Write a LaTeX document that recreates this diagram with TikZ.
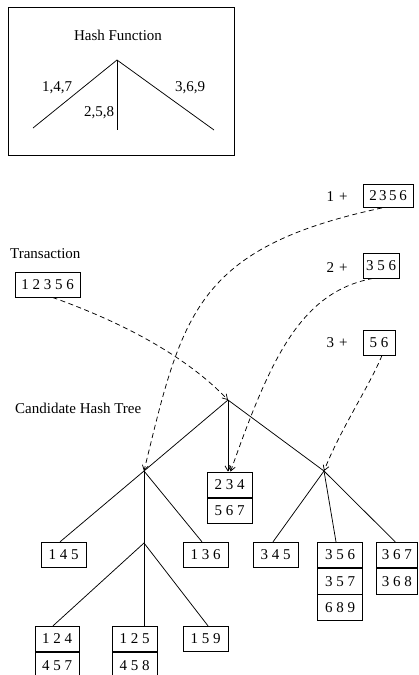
\documentclass[tikz,border=0pt]{standalone}
\usepackage{fontspec}
\setmainfont{Liberation Serif}
\usetikzlibrary{arrows.meta}
\begin{document}
\begin{tikzpicture}[x=1pt,y=-1pt,
  every node/.style={font=\fontsize{15}{18}\selectfont},
  line/.style={line width=0.75pt},
  cell/.style={draw,line width=0.8pt,inner sep=0pt,minimum width=45pt,minimum height=25.5pt},
  tbox/.style={draw,line width=0.8pt,inner sep=0pt,minimum height=25pt},
  dasharrow/.style={line width=0.75pt,dash pattern=on 5pt off 3.5pt,-{Straight Barb[length=5pt,width=6pt]}},
  solidarrow/.style={line width=0.75pt,-{Straight Barb[length=5pt,width=6pt]}},
  lbl/.style={inner sep=0pt}
]
\clip (0,0) rectangle (418,675);
\fill[white] (0,0) rectangle (418,675);

% Hash function box
\node[draw,line width=0.8pt,minimum width=226pt,minimum height=148pt,inner sep=0pt] (hbox) at (121,81.5) {};
\node[lbl] (htitle) at (118,35) {Hash Function};
\coordinate (hapex) at (117,60);
\coordinate (hl) at (33,128);
\coordinate (hm) at (117,130);
\coordinate (hr) at (214,130);
\draw[line] (hapex) -- (hl);
\draw[line] (hapex) -- (hm);
\draw[line] (hapex) -- (hr);
\node[lbl] (l147) at (57,88) {1,4,7};
\node[lbl] (l258) at (99,113) {2,5,8};
\node[lbl] (l369) at (190,88) {3,6,9};

% Transaction
\node[lbl,anchor=west] (translbl) at (10,254) {Transaction};
\node[tbox,minimum width=65pt] (trans) at (47.5,284.5) {1 2 3 5 6};

% Prefix boxes
\node[lbl] (p1) at (337,197) {1\,\,+};
\node[tbox,minimum width=50pt,minimum height=23pt] (b2356) at (388,196) {2\,3\,5\,6};
\node[lbl] (p2) at (337,268) {2\,\,+};
\node[tbox,minimum width=36pt] (b356) at (381,265.5) {3 5 6};
\node[lbl] (p3) at (337,343) {3\,\,+};
\node[tbox,minimum width=32pt] (b56) at (379,342.5) {5 6};

% Candidate tree
\node[lbl,anchor=west] (candlbl) at (15,408) {Candidate Hash Tree};
\coordinate (root) at (228,400);
\coordinate (lc) at (144,471);
\coordinate (rc) at (324,471);
\coordinate (sub) at (144,543);

\node[cell] (c234) at (229.5,484.75) {2 3 4};
\node[cell,anchor=north] (c567) at (c234.south) {5 6 7};

\node[cell] (c145) at (63.5,555) {1 4 5};
\node[cell] (c136) at (205.5,555) {1 3 6};
\node[cell] (c345) at (275.5,555) {3 4 5};
\node[cell] (c356) at (340,555) {3 5 6};
\node[cell,anchor=north] (c357) at (c356.south) {3 5 7};
\node[cell,anchor=north] (c689) at (c357.south) {6 8 9};
\node[cell,minimum width=41.5pt] (c367) at (396.75,555) {3 6 7};
\node[cell,minimum width=41.5pt,anchor=north] (c368) at (c367.south) {3 6 8};

\node[cell,minimum width=44pt] (c124) at (57,639) {1 2 4};
\node[cell,minimum width=44pt,anchor=north] (c457) at (c124.south) {4 5 7};
\node[cell] (c125) at (134.5,639) {1 2 5};
\node[cell,anchor=north] (c458) at (c125.south) {4 5 8};
\node[cell] (c159) at (205.5,639) {1 5 9};

% tree edges
\draw[line] (root) -- (lc);
\draw[solidarrow] (root) -- (root |- c234.north);
\draw[line] (root) -- (rc);
\draw[line] (lc) -- ([xshift=-3.5pt]c145.north);
\draw[line] (lc) -- (sub);
\draw[line] (lc) -- ([xshift=-3.5pt]c136.north);
\draw[line] (sub) -- ([xshift=-4pt]c124.north);
\draw[line] (sub) -- ([xshift=9.5pt]c125.north);
\draw[line] (sub) -- ([xshift=2.5pt]c159.north);
\draw[line] (rc) -- ([xshift=-2.5pt]c345.north);
\draw[line] (rc) -- ([xshift=-4pt]c356.north);
\draw[line] (rc) -- ([xshift=-1.5pt]c367.north);

% dashed arrows
\draw[dasharrow] ([xshift=5pt]trans.south) .. controls (130,325) and (190,360) .. (root);
\draw[dasharrow] ([xshift=-6pt]b2356.south) .. controls (195,248) and (182,315) .. (lc);
\draw[dasharrow] ([xshift=-8pt]b356.south) .. controls (300,292) and (270,360) .. ([xshift=1pt]c234.north);
\draw[dasharrow] ([xshift=3pt]b56.south) .. controls (370,385) and (340,430) .. (rc);
\end{tikzpicture}
\end{document}
